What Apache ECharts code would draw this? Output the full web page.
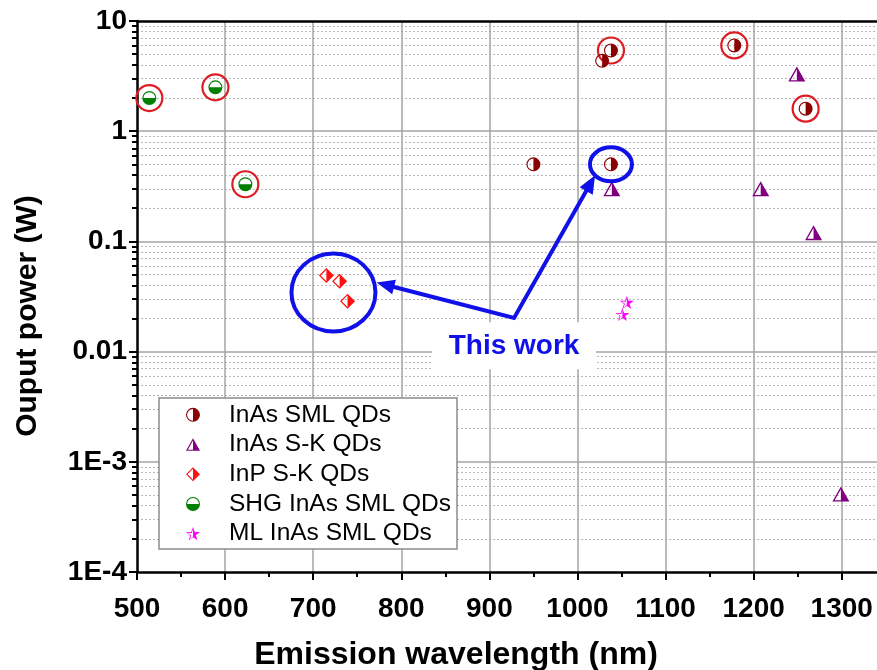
<!DOCTYPE html>
<html>
<head>
<meta charset="utf-8">
<script src="https://cdn.jsdelivr.net/npm/echarts@6/dist/echarts.min.js"></script>
<style>
html, body { margin: 0; padding: 0; background: #fff; }
#chart { width: 877px; height: 670px; }
</style>
</head>
<body>
<div id="chart"></div>
<script>
// Emission wavelength (nm) vs. output power (W)
const inasSml = [[950, 0.5], [1028, 4.35], [1038, 5.4], [1038, 0.5], [1178, 6.0], [1259, 1.6]];
const inasSk = [[1039, 0.30], [1208, 0.30], [1249, 3.3], [1268, 0.12], [1299, 5.1e-4]];
const inpSk = [[715, 0.049], [730, 0.0435], [739, 0.0287]];
const shgInasSml = [[514, 2.0], [589, 2.5], [623, 0.33]];
const mlInasSml = [[1051, 0.0217], [1056, 0.028]];
// previously reported devices, ringed in red
const ringedPoints = [[514, 2.0], [589, 2.5], [623, 0.33], [1038, 5.4], [1178, 6.0], [1259, 1.6]];

const seriesNames = ['InAs SML QDs', 'InAs S-K QDs', 'InP S-K QDs', 'SHG InAs SML QDs', 'ML InAs SML QDs'];

const xTickValues = [500, 600, 700, 800, 900, 1000, 1100, 1200, 1300];
const xMinorTickValues = [550, 650, 750, 850, 950, 1050, 1150, 1250];
const yTickValues = [1e-4, 1e-3, 0.01, 0.1, 1, 10];
const yTickLabels = ['1E-4', '1E-3', '0.01', '0.1', '1', '10'];
const yMinorMantissas = [2, 3, 4, 5, 6, 7, 8, 9];
const yMinorDecades = [1e-4, 1e-3, 0.01, 0.1, 1];
const yMinorTickValues = yMinorDecades.flatMap(d => yMinorMantissas.map(m => +(m * d).toPrecision(3)));

// "This work" callout, anchored in data space
const noteVertex = [928, 0.0202];
const noteTipLeft = [772, 0.0424];
const noteTipRight = [1020, 0.398];
const noteRingBig = [723, 0.0344];
const noteRingSmall = [1038, 0.5];
const noteLabelAt = [928, 0.0112];

const FONT = '"Liberation Sans", Arial, sans-serif';

// ---- half-filled marker paths (outline ring + one filled half, nonzero winding) ----
function f(n) { return +n.toFixed(3); }
function circleLoop(cx, cy, r, cw) {
  const s = cw ? 1 : 0;
  const pts = cw
    ? [[cx + r, cy], [cx, cy + r], [cx - r, cy], [cx, cy - r]]
    : [[cx - r, cy], [cx, cy + r], [cx + r, cy], [cx, cy - r]];
  let d = `M${f(cx)},${f(cy - r)}`;
  pts.forEach(p => { d += ` A${f(r)},${f(r)} 0 0,${s} ${f(p[0])},${f(p[1])}`; });
  return d + ' Z';
}
function polyLoop(pts) {
  return 'M' + pts.map(p => `${f(p[0])},${f(p[1])}`).join(' L') + ' Z';
}
function halfCirclePath(half) {
  const R = 10, r = 8.4, c = 10;
  let d = circleLoop(c, c, R, true) + ' ' + circleLoop(c, c, r, false) + ' ';
  if (half === 'right') {
    d += `M${c},${f(c - r)} A${r},${r} 0 0,1 ${f(c + r)},${c} A${r},${r} 0 0,1 ${c},${f(c + r)} Z`;
  } else {
    d += `M${f(c - r)},${c} A${r},${r} 0 0,0 ${c},${f(c + r)} A${r},${r} 0 0,0 ${f(c + r)},${c} Z`;
  }
  return 'path://' + d;
}
function halfTrianglePath() {
  const outer = [[10, 0], [20, 18], [0, 18]];
  const inner = [[10, 3.3], [2.72, 16.4], [17.28, 16.4]];
  const half = [[10, 3.3], [17.28, 16.4], [10, 16.4]];
  return 'path://' + polyLoop(outer) + ' ' + polyLoop(inner) + ' ' + polyLoop(half);
}
function halfDiamondPath() {
  const outer = [[10, 0], [20, 10], [10, 20], [0, 10]];
  const inner = [[10, 2.26], [2.26, 10], [10, 17.74], [17.74, 10]];
  const half = [[10, 2.26], [17.74, 10], [10, 17.74]];
  return 'path://' + polyLoop(outer) + ' ' + polyLoop(inner) + ' ' + polyLoop(half);
}
function starPoints(R, r, cx, cy) {
  const pts = [];
  for (let k = 0; k < 10; k++) {
    const a = (-90 + k * 36) * Math.PI / 180;
    const rad = k % 2 === 0 ? R : r;
    pts.push([cx + rad * Math.cos(a), cy + rad * Math.sin(a)]);
  }
  return pts;
}
function halfStarPath() {
  const outer = starPoints(10, 4, 10, 10);
  const inner = starPoints(7.6, 2.6, 10, 10.3).reverse();
  const half = starPoints(7.6, 2.6, 10, 10.3).slice(0, 6);
  return 'path://' + polyLoop(outer) + ' ' + polyLoop(inner) + ' ' + polyLoop(half);
}

const SYM_SML = halfCirclePath('right');
const SYM_SK = halfTrianglePath();
const SYM_INP = halfDiamondPath();
const SYM_SHG = halfCirclePath('bottom');
const SYM_ML = halfStarPath();

const chart = echarts.init(document.getElementById('chart'), null, { renderer: 'canvas' });

const axisBlack = { color: '#000', width: 2.5 };
const majorGrid = { color: '#a4a4a4', width: 1.5 };
const tickFont = { color: '#000', fontSize: 28, fontWeight: 'bold', fontFamily: FONT };

chart.setOption({
  animation: false,
  backgroundColor: '#fff',
  grid: { left: 137, top: 21, width: 741, height: 551, containLabel: false },
  xAxis: [
    {
      type: 'value', min: 500, max: 1340, position: 'bottom', z: 1,
      axisLine: { show: true, onZero: false, lineStyle: axisBlack },
      axisTick: { show: true, inside: false, length: 8, customValues: xTickValues, lineStyle: { color: '#000', width: 2 } },
      axisLabel: Object.assign({ customValues: xTickValues, margin: 23, formatter: v => String(v) }, tickFont),
      splitLine: { show: true, showMinLine: false, lineStyle: majorGrid }
    },
    {
      type: 'value', min: 500, max: 1340, position: 'bottom', z: 1,
      axisLine: { show: false },
      axisTick: { show: true, inside: false, length: 5, customValues: xMinorTickValues, lineStyle: { color: '#000', width: 2 } },
      axisLabel: { show: false },
      splitLine: { show: false }
    },
    {
      type: 'value', min: 500, max: 1340, position: 'top', z: 1,
      axisLine: { show: true, onZero: false, lineStyle: axisBlack },
      axisTick: { show: false }, axisLabel: { show: false }, splitLine: { show: false }
    }
  ],
  yAxis: [
    {
      type: 'log', logBase: 10, min: 1e-4, max: 10, position: 'left', z: 1,
      axisLine: { show: true, onZero: false, lineStyle: axisBlack },
      axisTick: { show: true, inside: false, length: 8, customValues: yTickValues, lineStyle: { color: '#000', width: 2 } },
      axisLabel: Object.assign({
        customValues: yTickValues, margin: 10,
        formatter: v => {
          const i = yTickValues.findIndex(t => Math.abs(Math.log10(t) - Math.log10(v)) < 1e-6);
          return i >= 0 ? yTickLabels[i] : '';
        }
      }, tickFont),
      splitLine: { show: true, showMinLine: false, showMaxLine: false, lineStyle: majorGrid }
    },
    {
      type: 'log', logBase: 10, min: 1e-4, max: 10, position: 'left', z: 0,
      axisLine: { show: false },
      axisTick: { show: true, inside: false, length: 5, customValues: yMinorTickValues, lineStyle: { color: '#000', width: 2 } },
      axisLabel: { show: false },
      splitLine: { show: true, lineStyle: { color: '#b8b8b8', width: 1, type: [2, 2] } }
    }
  ],
  legend: {
    orient: 'vertical', left: 186, top: 400, padding: 0, itemGap: 0,
    itemWidth: 14, itemHeight: 14, selectedMode: false, z: 5,
    data: seriesNames,
    textStyle: { fontSize: 24.5, fontFamily: FONT, color: '#000', lineHeight: 29.7, padding: [0, 0, 0, 24] }
  },
  series: [
    { name: seriesNames[0], type: 'scatter', data: inasSml, symbol: SYM_SML, symbolSize: 14, itemStyle: { color: '#8b0000', opacity: 1 }, z: 4 },
    { name: seriesNames[1], type: 'scatter', data: inasSk, symbol: SYM_SK, symbolSize: [17, 15], itemStyle: { color: '#800080', opacity: 1 }, z: 4 },
    { name: seriesNames[2], type: 'scatter', data: inpSk, symbol: SYM_INP, symbolSize: 15, itemStyle: { color: '#ff1010', opacity: 1 }, z: 4 },
    { name: seriesNames[3], type: 'scatter', data: shgInasSml, symbol: SYM_SHG, symbolSize: 14, itemStyle: { color: '#007f00', opacity: 1 }, z: 4 },
    { name: seriesNames[4], type: 'scatter', data: mlInasSml, symbol: SYM_ML, symbolSize: [14, 13], itemStyle: { color: '#ff00ff', opacity: 1 }, z: 4 },
    {
      name: 'ringed', type: 'scatter', data: ringedPoints, symbol: 'circle', symbolSize: 26, silent: true, z: 3,
      itemStyle: { color: 'rgba(0,0,0,0)', borderColor: '#dd1c24', borderWidth: 2.2, opacity: 1 }
    }
  ]
});

// ---- callout, axis titles and legend frame ----
const px = pt => chart.convertToPixel({ xAxisIndex: 0, yAxisIndex: 0 }, pt);
const BLUE = '#1010e8';

function arrowParts(from, tip, len, halfW) {
  const dx = tip[0] - from[0], dy = tip[1] - from[1];
  const L = Math.hypot(dx, dy);
  const ux = dx / L, uy = dy / L;
  const bx = tip[0] - ux * len, by = tip[1] - uy * len;
  return {
    lineEnd: [bx + ux * 2, by + uy * 2],
    head: [tip, [bx - uy * halfW, by + ux * halfW], [bx + uy * halfW, by - ux * halfW]]
  };
}

const V = px(noteVertex), TL = px(noteTipLeft), TR = px(noteTipRight);
const CB = px(noteRingBig), CS = px(noteRingSmall), LB = px(noteLabelAt);
const aL = arrowParts(V, TL, 18, 7.5);
const aR = arrowParts(V, TR, 18, 7.5);

chart.setOption({
  graphic: [
    { type: 'rect', z: 3, shape: { x: 159, y: 398, width: 298, height: 151 },
      style: { fill: '#fff', stroke: '#8c8c8c', lineWidth: 1.5 } },
    { type: 'rect', z: 10, shape: { x: LB[0] - 82, y: LB[1] - 24, width: 164, height: 47 },
      style: { fill: '#fff' } },
    { type: 'text', z: 11, x: LB[0], y: LB[1],
      style: { text: 'This work', fill: BLUE, font: 'bold 28px ' + FONT, textAlign: 'center', textVerticalAlign: 'middle' } },
    { type: 'polyline', z: 10, shape: { points: [aL.lineEnd, V, aR.lineEnd] },
      style: { stroke: BLUE, lineWidth: 4, fill: null, lineJoin: 'miter' } },
    { type: 'polygon', z: 10, shape: { points: aL.head }, style: { fill: BLUE } },
    { type: 'polygon', z: 10, shape: { points: aR.head }, style: { fill: BLUE } },
    { type: 'ellipse', z: 10, shape: { cx: CB[0], cy: CB[1], rx: 42, ry: 39 },
      style: { fill: null, stroke: BLUE, lineWidth: 4 } },
    { type: 'ellipse', z: 10, shape: { cx: CS[0], cy: CS[1], rx: 21, ry: 17 },
      style: { fill: null, stroke: BLUE, lineWidth: 4 } },
    { type: 'text', z: 11, x: 456, y: 655,
      style: { text: 'Emission wavelength (nm)', fill: '#000', font: 'bold 32px ' + FONT, textAlign: 'center', textVerticalAlign: 'middle' } },
    { type: 'text', z: 11, x: 28, y: 316, rotation: Math.PI / 2,
      style: { text: 'Ouput power (W)', fill: '#000', font: 'bold 30px ' + FONT, textAlign: 'center', textVerticalAlign: 'middle' } }
  ]
});
</script>
</body>
</html>
